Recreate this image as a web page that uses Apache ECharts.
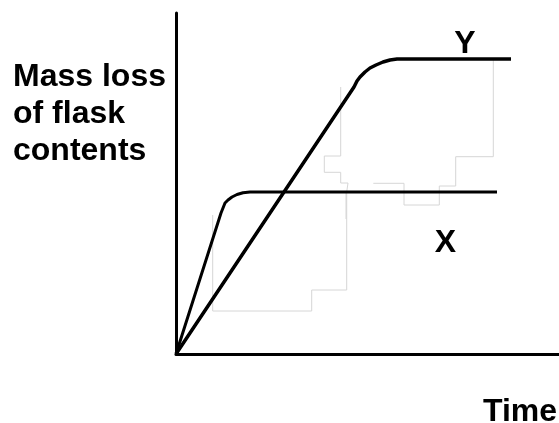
<!DOCTYPE html>
<html>
<head>
<meta charset="utf-8">
<script src="https://cdn.jsdelivr.net/npm/echarts@6/dist/echarts.min.js"></script>
<style>
  html, body { margin: 0; padding: 0; background: #fff; }
  #chart { width: 559px; height: 423px; }
</style>
</head>
<body>
<div id="chart"></div>
<script>
// curve points [time, mass loss] in arbitrary units
const curveX = [
  [0, 0], [45, 141], [47, 146], [49, 151], [52, 154], [56, 157], [61, 159.5], [67, 161.3], [74, 162], [321, 162]
]
const curveY = [
  [0, 0], [178, 267], [181, 273], [184, 277], [189, 282], [194, 286], [200, 289], [207, 292], [214, 294], [221, 295], [335, 295]
]
// faint grey step traces visible in the scan
const traceA = [
  [36.7, 139], [36.7, 43], [135.7, 43], [135.7, 64], [170.7, 64], [170.7, 162], [172, 162], [172, 171],
  [164.7, 171], [164.7, 181.7], [148.3, 181.7], [148.3, 198], [164.7, 198], [164.7, 267]
]
const traceB = [
  [170, 162], [170, 135]
]
const traceC = [
  [197.3, 170.7], [228, 170.7], [228, 149], [263.3, 149], [263.3, 168], [279.7, 168], [279.7, 197.3],
  [317.3, 197.3], [317.3, 295]
]

const xMax = 383
const yMax = 341
const labelFont = 'bold 32px "Liberation Sans", Arial, Helvetica, sans-serif'

const chart = echarts.init(document.getElementById('chart'))

function lineSeries(data, width, color) {
  return {
    type: 'line',
    data: data,
    showSymbol: false,
    silent: true,
    lineStyle: { color: color, width: width },
    z: color === '#000' ? 3 : 2,
  }
}

function textEl(text, x, y, align) {
  return {
    type: 'text',
    x: x,
    y: y,
    style: {
      text: text,
      font: labelFont,
      fill: '#000',
      align: align || 'left',
      verticalAlign: 'middle',
    },
  }
}

const option = {
  animation: false,
  backgroundColor: '#fff',
  grid: { left: 176, right: 0, top: 13, bottom: 69 },
  xAxis: {
    type: 'value',
    min: 0,
    max: xMax,
    axisLine: { show: true, onZero: false, lineStyle: { color: '#000', width: 3 } },
    axisTick: { show: false },
    axisLabel: { show: false },
    splitLine: { show: false },
  },
  yAxis: {
    type: 'value',
    min: 0,
    max: yMax,
    axisLine: { show: true, onZero: false, lineStyle: { color: '#000', width: 3 } },
    axisTick: { show: false },
    axisLabel: { show: false },
    splitLine: { show: false },
  },
  series: [
    lineSeries(traceA, 1, '#d6d6d6'),
    lineSeries(traceB, 1, '#d6d6d6'),
    lineSeries(traceC, 1, '#d6d6d6'),
    lineSeries(curveX, 3, '#000'),
    lineSeries(curveY, 3.5, '#000'),
  ],
  graphic: [
    textEl('Mass loss', 13, 77),
    textEl('of flask', 13, 114),
    textEl('contents', 13, 151),
    textEl('Y', 465, 44, 'center'),
    textEl('X', 445.5, 243.5, 'center'),
    textEl('Time', 483, 412),
  ],
}

chart.setOption(option)
</script>
</body>
</html>
